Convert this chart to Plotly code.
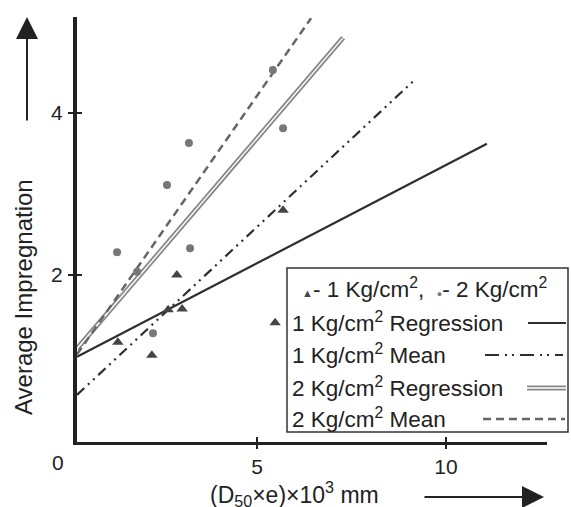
import plotly.graph_objects as go

# ---- data ----
tri_x = [1.32, 2.22, 2.65, 2.88, 3.02, 5.48, 5.69]
tri_y = [1.17, 1.01, 1.57, 2.00, 1.58, 1.41, 2.80]
cir_x = [1.30, 1.83, 2.25, 2.62, 3.20, 3.23, 5.42, 5.69]
cir_y = [2.28, 2.04, 1.28, 3.11, 3.63, 2.33, 4.53, 3.81]

reg1_x = [0.24, 11.08]
reg1_y = [0.99, 3.62]
mean1_x = [0.24, 9.15]
mean1_y = [0.52, 4.40]
reg2_x = [0.24, 7.28]
reg2_y = [1.09, 4.93]
mean2_x = [0.24, 6.43]
mean2_y = [1.02, 5.17]

x_ticks = [5, 10]
y_ticks = [2, 4]
x_range = [0.24, 12.67]
y_range = [-0.062, 5.185]

legend_rows = [
    "1 Kg/cm<sup>2</sup> Regression",
    "1 Kg/cm<sup>2</sup> Mean",
    "2 Kg/cm<sup>2</sup> Regression",
    "2 Kg/cm<sup>2</sup> Mean",
]

# ---- layout geometry (pixels) ----
W, H = 571, 507
ML, MR, MT, MB = 77, 24, 17, 65
PW, PH = W - ML - MR, H - MT - MB


def px(xp):
    return (xp - ML) / PW


def py(yp):
    return (H - MB - yp) / PH


FONT = "Liberation Sans, Arial, sans-serif"
INK = "#222222"

fig = go.Figure()

fig.add_trace(go.Scatter(x=reg1_x, y=reg1_y, mode="lines",
                         line=dict(color="#2e2e2e", width=2.2)))
fig.add_trace(go.Scatter(x=mean1_x, y=mean1_y, mode="lines",
                         line=dict(color="#2e2e2e", width=2.2,
                                   dash="10px,5px,2px,5px,2px,5px")))
fig.add_trace(go.Scatter(x=reg2_x, y=reg2_y, mode="lines",
                         line=dict(color="#888888", width=5)))
fig.add_trace(go.Scatter(x=reg2_x, y=reg2_y, mode="lines",
                         line=dict(color="#ffffff", width=1.4)))
fig.add_trace(go.Scatter(x=mean2_x, y=mean2_y, mode="lines",
                         line=dict(color="#666666", width=2.5, dash="8px,5px")))
fig.add_trace(go.Scatter(x=cir_x, y=cir_y, mode="markers",
                         marker=dict(symbol="circle", size=8, color="#777777")))
fig.add_trace(go.Scatter(x=tri_x, y=tri_y, mode="markers",
                         marker=dict(symbol="triangle-up", size=10, color="#444444")))

shapes = []
annotations = []

# legend box
box_l, box_r, box_t, box_b = 287, 568, 268, 432
shapes.append(dict(type="rect", xref="paper", yref="paper",
                   x0=px(box_l), x1=px(box_r), y0=py(box_b), y1=py(box_t),
                   line=dict(color="#333333", width=1.5), fillcolor="white",
                   layer="above"))

LEG_FS = 22.5
row_y = [288, 322, 354, 387, 418]
annotations.append(dict(
    xref="paper", yref="paper", x=px(300), y=py(row_y[0]),
    xanchor="left", yanchor="middle", showarrow=False,
    text=("<span style='font-size:11px;color:#444'>▲</span>- 1 Kg/cm<sup>2</sup>,  "
          "<span style='font-size:9px;color:#777'>●</span>- 2 Kg/cm<sup>2</sup>"),
    font=dict(family=FONT, size=LEG_FS, color=INK)))
for txt, yp in zip(legend_rows, row_y[1:]):
    annotations.append(dict(
        xref="paper", yref="paper", x=px(290), y=py(yp),
        xanchor="left", yanchor="middle", showarrow=False,
        text=txt, font=dict(family=FONT, size=LEG_FS, color=INK)))

# legend line samples
shapes.append(dict(type="line", xref="paper", yref="paper",
                   x0=px(528), x1=px(566), y0=py(row_y[1] + 1), y1=py(row_y[1] + 1),
                   line=dict(color="#2e2e2e", width=2.2)))
shapes.append(dict(type="line", xref="paper", yref="paper",
                   x0=px(485), x1=px(563), y0=py(row_y[2] + 1), y1=py(row_y[2] + 1),
                   line=dict(color="#2e2e2e", width=2.2,
                             dash="14px,6px,2px,5px,2px,6px")))
shapes.append(dict(type="line", xref="paper", yref="paper",
                   x0=px(527), x1=px(566), y0=py(row_y[3] + 1), y1=py(row_y[3] + 1),
                   line=dict(color="#888888", width=5)))
shapes.append(dict(type="line", xref="paper", yref="paper",
                   x0=px(527), x1=px(566), y0=py(row_y[3] + 1), y1=py(row_y[3] + 1),
                   line=dict(color="#ffffff", width=1.4)))
shapes.append(dict(type="line", xref="paper", yref="paper",
                   x0=px(483), x1=px(565), y0=py(row_y[4] + 1), y1=py(row_y[4] + 1),
                   line=dict(color="#666666", width=2.5, dash="8px,5px")))

# axis titles
annotations.append(dict(
    xref="paper", yref="paper", x=px(23), y=py(297), textangle=-90,
    xanchor="center", yanchor="middle", showarrow=False,
    text="Average Impregnation", font=dict(family=FONT, size=24, color=INK)))
annotations.append(dict(
    xref="paper", yref="paper", x=px(208), y=py(494),
    xanchor="left", yanchor="middle", showarrow=False,
    text="(D<sub>50</sub>×e)×10<sup>3</sup> mm",
    font=dict(family=FONT, size=23, color=INK)))
# origin label
annotations.append(dict(
    xref="paper", yref="paper", x=px(58), y=py(463),
    xanchor="center", yanchor="middle", showarrow=False,
    text="0", font=dict(family=FONT, size=21, color=INK)))
# direction arrows
annotations.append(dict(
    xref="paper", yref="paper", x=px(27), y=py(17), ax=0, ay=105,
    axref="pixel", ayref="pixel", text="", showarrow=True,
    arrowhead=2, arrowsize=2.2, arrowwidth=2, arrowcolor="#222222"))
annotations.append(dict(
    xref="paper", yref="paper", x=px(544), y=py(497), ax=-121, ay=0,
    axref="pixel", ayref="pixel", text="", showarrow=True,
    arrowhead=2, arrowsize=2.2, arrowwidth=2, arrowcolor="#222222"))

fig.update_layout(
    width=W, height=H,
    margin=dict(l=ML, r=MR, t=MT, b=MB, pad=0),
    paper_bgcolor="white", plot_bgcolor="white",
    showlegend=False,
    shapes=shapes, annotations=annotations,
    font=dict(family=FONT, size=21, color=INK),
)
fig.update_xaxes(range=x_range, showgrid=False, zeroline=False,
                 showline=True, linecolor="#222222", linewidth=3,
                 tickvals=x_ticks, ticks="outside", ticklen=4, tickwidth=2,
                 tickcolor="#222222", ticklabelstandoff=0,
                 minor=dict(tickvals=x_ticks, ticks="inside", ticklen=5,
                            tickwidth=2, tickcolor="#222222"),
                 tickfont=dict(family=FONT, size=21, color=INK))
fig.update_yaxes(range=y_range, showgrid=False, zeroline=False,
                 showline=True, linecolor="#222222", linewidth=4,
                 tickvals=y_ticks, ticks="outside", ticklen=5, tickwidth=2,
                 tickcolor="#222222", ticklabelstandoff=1,
                 minor=dict(tickvals=y_ticks, ticks="inside", ticklen=5,
                            tickwidth=2, tickcolor="#222222"),
                 tickfont=dict(family=FONT, size=21, color=INK))

fig.write_html(
    "out.html",
    config={"displayModeBar": False},
    post_script="document.body.style.margin='0';document.body.style.overflow='hidden';",
)
